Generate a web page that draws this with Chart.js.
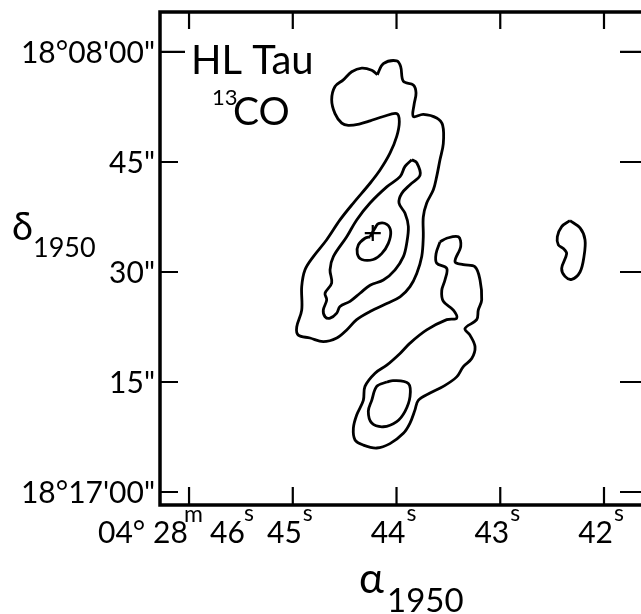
<!DOCTYPE html>
<html>
<head>
<meta charset="utf-8">
<title>HL Tau 13CO</title>
<script src="https://cdn.jsdelivr.net/npm/chart.js@4.4.1/dist/chart.umd.min.js"></script>
<style>
    html, body { margin: 0; padding: 0; background: #fff; overflow: hidden; }
    #wrap { width: 660px; height: 614px; }
</style>
</head>
<body>
<div id="wrap"><canvas id="coMap" width="660" height="614"></canvas></div>
<script>
// Axes: RA seconds (04h28m..s) and Dec arcsec offset (0 = 18°17'00")
const raTicks = [46, 45, 44, 43, 42];
const raTickLabels = ['46', '45', '44', '43', '42'];
const decTicks = [60, 45, 30, 15, 0];
const decTickLabels = ['18°08\'00"', '45"', '30"', '15"', '18°17\'00"'];

// Contours as [RA s, Dec "] pairs
const northOuter = [
    [44.185, 56.9], [44.127, 58.4], [43.998, 58.8], [43.960, 58.0], [43.934, 56.0],
    [43.838, 55.5], [43.812, 54.4], [43.831, 52.8], [43.838, 51.2], [43.742, 51.5],
    [43.613, 51.0], [43.555, 50.0], [43.549, 47.5], [43.581, 45.3], [43.613, 43.0],
    [43.645, 41.2], [43.709, 39.4], [43.742, 37.5], [43.742, 34.8], [43.757, 32.1],
    [43.805, 29.8], [43.870, 28.0], [43.966, 26.6], [44.094, 25.7], [44.255, 24.6],
    [44.384, 23.5], [44.480, 22.1], [44.576, 21.0], [44.706, 20.5], [44.834, 21.0],
    [44.947, 21.4], [44.962, 22.5], [44.914, 24.8], [44.914, 28.0], [44.882, 30.3],
    [44.802, 32.1], [44.673, 34.4], [44.545, 37.1], [44.416, 39.4], [44.255, 42.1],
    [44.159, 43.9], [44.063, 46.2], [43.998, 48.5], [43.973, 50.5], [43.998, 51.6],
    [44.127, 51.2], [44.255, 50.6], [44.352, 50.2], [44.465, 50.0], [44.528, 50.3],
    [44.593, 51.6], [44.625, 53.5], [44.593, 55.3], [44.513, 56.2], [44.432, 57.3],
    [44.335, 57.8], [44.239, 57.5]
];
const northMiddle = [
    [43.853, 45.3], [43.805, 44.9], [43.773, 43.2], [43.870, 41.9], [43.950, 40.7],
    [43.976, 39.4], [43.918, 38.0], [43.886, 36.2], [43.902, 33.9], [43.934, 32.1],
    [44.014, 30.3], [44.127, 28.9], [44.255, 28.2], [44.352, 27.1], [44.448, 26.0],
    [44.545, 25.3], [44.576, 24.4], [44.641, 23.7], [44.689, 23.9], [44.706, 24.8],
    [44.673, 26.2], [44.689, 27.1], [44.625, 28.5], [44.641, 30.3], [44.609, 32.1],
    [44.480, 34.8], [44.384, 37.1], [44.255, 39.4], [44.094, 41.6], [43.966, 43.0],
    [43.918, 44.4]
];
const northInner = [
    [44.255, 34.8], [44.304, 34.6], [44.368, 33.7], [44.378, 32.5], [44.335, 31.7],
    [44.224, 31.7], [44.143, 32.5], [44.079, 33.9], [44.056, 35.5], [44.094, 36.5],
    [44.175, 36.6], [44.207, 36.0]
];
const southOuter = [
    [43.581, 34.1], [43.516, 34.6], [43.404, 34.8], [43.381, 33.5], [43.436, 31.4],
    [43.356, 31.0], [43.243, 30.7], [43.195, 28.9], [43.179, 26.2], [43.212, 24.8],
    [43.227, 23.5], [43.340, 22.3], [43.292, 21.4], [43.243, 19.8], [43.275, 18.2],
    [43.356, 17.1], [43.420, 15.7], [43.549, 14.4], [43.677, 13.5], [43.790, 12.5],
    [43.822, 11.2], [43.870, 9.4], [43.934, 8.0], [44.063, 6.6], [44.191, 6.0],
    [44.320, 6.4], [44.400, 7.1], [44.416, 8.7], [44.384, 10.5], [44.320, 12.5],
    [44.304, 14.4], [44.207, 16.2], [44.094, 17.3], [43.966, 18.9], [43.870, 20.3],
    [43.709, 22.1], [43.516, 23.5], [43.420, 23.7], [43.452, 24.8], [43.549, 26.0],
    [43.564, 27.5], [43.533, 28.9], [43.516, 30.5], [43.613, 31.2], [43.619, 32.5]
];
const southInner = [
    [44.094, 15.0], [44.031, 15.2], [43.886, 14.8], [43.870, 13.0], [43.918, 11.0],
    [43.998, 9.6], [44.127, 8.9], [44.239, 9.4], [44.272, 11.0], [44.239, 12.5],
    [44.191, 14.4]
];
const eastClump = [
    [42.328, 37.0], [42.231, 36.0], [42.183, 34.4], [42.193, 32.1], [42.231, 30.0],
    [42.311, 29.0], [42.376, 29.4], [42.408, 30.5], [42.360, 32.5], [42.392, 33.2],
    [42.440, 33.7], [42.450, 34.8], [42.408, 36.2]
];
// HL Tau position
const starPos = [[44.229, 35.3]];

const FONT = 'Lato, "DejaVu Sans", sans-serif';

const toPoints = arr => arr.map(([x, y]) => ({ x, y }));

function contour(pts) {
    return {
        data: toPoints(pts.concat([pts[0]])),
        showLine: true,
        borderColor: '#000',
        borderWidth: 2.8,
        pointRadius: 0,
        tension: 0.35,
        fill: false
    };
}

// draws a run of text pieces: [text, x, size, rise]
function drawPieces(ctx, baseline, pieces) {
    pieces.forEach(([text, x, size, rise]) => {
        ctx.font = `${size}px ${FONT}`;
        ctx.fillText(text, x, baseline - rise);
    });
}

const axisFrame = {
    id: 'axisFrame',
    afterDatasetsDraw(chart) {
        const { ctx, chartArea: a, scales: { x, y } } = chart;
        ctx.save();
        ctx.strokeStyle = '#000';
        ctx.fillStyle = '#000';

        // box
        ctx.lineWidth = 3.5;
        ctx.strokeRect(a.left, a.top, a.right - a.left, a.bottom - a.top);

        // inward ticks
        ctx.lineWidth = 2.2;
        ctx.beginPath();
        raTicks.forEach(v => {
            const px = x.getPixelForValue(v);
            ctx.moveTo(px, a.bottom);
            ctx.lineTo(px, a.bottom - 18);
            ctx.moveTo(px, a.top);
            ctx.lineTo(px, a.top + 17);
        });
        decTicks.forEach((v, i) => {
            const py = y.getPixelForValue(v);
            ctx.moveTo(a.left, py);
            ctx.lineTo(a.left + (i === 0 ? 25 : 18), py);
            ctx.moveTo(a.right, py);
            ctx.lineTo(a.right - 23, py);
        });
        ctx.stroke();

        // Dec labels
        ctx.textAlign = 'right';
        ctx.textBaseline = 'alphabetic';
        ctx.font = `30px ${FONT}`;
        decTicks.forEach((v, i) => {
            const py = y.getPixelForValue(v);
            ctx.fillText(decTickLabels[i], a.left - 5, py + 11);
        });

        // RA labels
        const base = a.bottom + 38;
        raTicks.forEach((v, i) => {
            const px = x.getPixelForValue(v);
            ctx.textAlign = 'left';
            if (i === 0) {
                drawPieces(ctx, base, [
                    ['04°', px - 91, 30, 0],
                    ['28', px - 36, 30, 0],
                    ['m', px - 5, 23, 21],
                    [raTickLabels[i], px + 21, 30, 0],
                    ['s', px + 55, 23, 22]
                ]);
            } else {
                ctx.font = `30px ${FONT}`;
                const w = ctx.measureText(raTickLabels[i]).width;
                drawPieces(ctx, base, [
                    [raTickLabels[i], px + 9 - w, 30, 0],
                    ['s', px + 10, 23, 22]
                ]);
            }
        });

        // axis titles
        ctx.textAlign = 'left';
        drawPieces(ctx, 240, [
            ['δ', 12, 38, 0],
            ['1950', 33, 27, -17]
        ]);
        drawPieces(ctx, 593, [
            ['α', 359, 42, 0],
            ['1950', 387, 33, -19]
        ]);

        // source / line label
        drawPieces(ctx, a.top + 62, [
            ['HL Tau', a.left + 31, 40, 0]
        ]);
        drawPieces(ctx, a.top + 113, [
            ['13', a.left + 52, 22, 20],
            ['CO', a.left + 73, 39, 0]
        ]);
        ctx.restore();
    }
};

new Chart(document.getElementById('coMap'), {
    type: 'scatter',
    data: {
        datasets: [
            contour(northOuter),
            contour(northMiddle),
            contour(northInner),
            contour(southOuter),
            contour(southInner),
            contour(eastClump),
            {
                data: toPoints(starPos),
                pointStyle: 'cross',
                pointRadius: 8,
                borderColor: '#000',
                borderWidth: 2.2,
                showLine: false
            }
        ]
    },
    options: {
        responsive: false,
        animation: false,
        devicePixelRatio: 1,
        layout: { padding: { left: 160, top: 12, right: 17, bottom: 109 } },
        scales: {
            x: { type: 'linear', display: false, reverse: true, min: 41.624, max: 46.28 },
            y: { type: 'linear', display: false, min: -1.77, max: 65.45 }
        },
        plugins: {
            legend: { display: false },
            tooltip: { enabled: false }
        }
    },
    plugins: [axisFrame]
});
</script>
</body>
</html>
